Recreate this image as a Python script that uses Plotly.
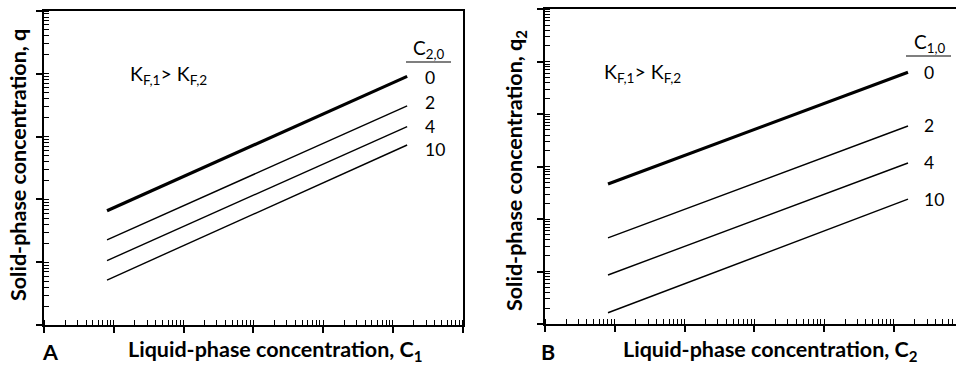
import math
import plotly.graph_objects as go

W, H = 956, 365

# ---- data (schematic Freundlich isotherms, log-log) ----
conc_liquid = [8, 160000]                 # C1 / C2 range of each line
series_labels = ["0", "2", "4", "10"]     # C2,0 (panel A) / C1,0 (panel B)
q_panel_a = {
    "0":  [66, 9100],
    "2":  [22.6, 3090],
    "4":  [10.6, 1445],
    "10": [5.2, 735],
}
q_panel_b = {
    "0":  [468, 63100],
    "2":  [43.7, 5960],
    "4":  [8.6, 1175],
    "10": [1.64, 240],
}
line_widths = {"0": 3.2, "2": 1.4, "4": 1.4, "10": 1.4}
label_shift_a = {"0": -1, "2": 3, "4": 0, "10": -4}

FONT = "Lato"

def px(x):
    return x / W

def py(y):
    return 1 - y / H

fig = go.Figure()

for lab in series_labels:
    fig.add_trace(go.Scatter(x=conc_liquid, y=q_panel_a[lab], mode="lines",
                             line=dict(color="black", width=line_widths[lab]),
                             xaxis="x", yaxis="y", showlegend=False, hoverinfo="skip"))
    fig.add_trace(go.Scatter(x=conc_liquid, y=q_panel_b[lab], mode="lines",
                             line=dict(color="black", width=line_widths[lab]),
                             xaxis="x2", yaxis="y2", showlegend=False, hoverinfo="skip"))

common = dict(type="log", showgrid=False, zeroline=False, showticklabels=False,
              linecolor="black", linewidth=1.5, dtick=1,
              ticks="outside", ticklen=6, tickwidth=1.5, tickcolor="black",
              minor=dict(ticks="inside", ticklen=5, tickwidth=1, tickcolor="black", dtick="D1"))
over = dict(type="log", showgrid=False, zeroline=False, showticklabels=False,
            showline=False, dtick=1, ticks="inside", ticklen=6, tickwidth=1.5,
            tickcolor="black")

xa_dom = [px(44), px(462.7)]
ya_dom = [py(325), py(11)]
xb_dom = [px(545), 1.0]
yb_dom = [py(324), py(9.3)]
xb_max = (956 - 545) / 69.75

fig.update_layout(
    width=W, height=H, margin=dict(l=0, r=0, t=0, b=0),
    paper_bgcolor="white", plot_bgcolor="white",
    xaxis=dict(domain=xa_dom, range=[0, 6], anchor="y", mirror=True, showline=True, **common),
    yaxis=dict(domain=ya_dom, range=[0, 5], anchor="x", mirror=True, showline=True, **common),
    xaxis2=dict(domain=xb_dom, range=[0, xb_max], anchor="y2", mirror=True, showline=True, **common),
    yaxis2=dict(domain=yb_dom, range=[0, 6], anchor="x2", mirror=False, showline=True, **common),
    xaxis3=dict(overlaying="x", anchor="y", side="bottom", range=[0, 6], **over),
    yaxis3=dict(overlaying="y", anchor="x", side="left", range=[0, 5], **over),
    xaxis4=dict(overlaying="x2", anchor="y2", side="bottom", range=[0, xb_max], **over),
    yaxis4=dict(overlaying="y2", anchor="x2", side="left", range=[0, 6], **over),
)

ann = []
def text(x, y, s, size=17, bold=False, angle=0, xanchor="center"):
    if bold:
        s = "<b>" + s + "</b>"
    ann.append(dict(x=px(x), y=py(y), xref="paper", yref="paper", text=s,
                    showarrow=False, textangle=angle, xanchor=xanchor, yanchor="middle",
                    font=dict(family=FONT, size=size, color="black")))

TS = 21.5
# axis titles
text(18, 165, "Solid-phase concentration, q", size=TS, bold=True, angle=-90)
text(515, 171, "Solid-phase concentration, q<sub>2</sub>", size=TS, bold=True, angle=-90)
text(275, 350, "Liquid-phase concentration, C<sub>1</sub>", size=TS, bold=True)
text(770, 350, "Liquid-phase concentration, C<sub>2</sub>", size=TS, bold=True)
text(50, 352, "A", size=TS, bold=True)
text(548, 352, "B", size=TS, bold=True)

# K_F relation
text(128, 75, "K<sub>F,1</sub>> K<sub>F,2</sub>", size=19.5, xanchor="left")
text(602, 73, "K<sub>F,1</sub>> K<sub>F,2</sub>", size=19.5, xanchor="left")

# legend headers
text(428, 49, "C<sub>2,0</sub>", size=19)
text(929, 43, "C<sub>1,0</sub>", size=19)

# series labels at line ends (log-axis annotations use log10 coordinates)
for lab in series_labels:
    ann.append(dict(x=math.log10(conc_liquid[-1]), y=math.log10(q_panel_a[lab][-1]),
                    xref="x", yref="y", text=lab, showarrow=False,
                    xanchor="left", yanchor="middle", xshift=16, yshift=label_shift_a[lab],
                    font=dict(family=FONT, size=17.5, color="black")))
    ann.append(dict(x=math.log10(conc_liquid[-1]), y=math.log10(q_panel_b[lab][-1]),
                    xref="x2", yref="y2", text=lab, showarrow=False,
                    xanchor="left", yanchor="middle", xshift=14,
                    font=dict(family=FONT, size=17.5, color="black")))

fig.update_layout(annotations=ann)

fig.add_shape(type="line", xref="paper", yref="paper", x0=px(406), x1=px(451),
              y0=py(62), y1=py(62), line=dict(color="black", width=1.2))
fig.add_shape(type="line", xref="paper", yref="paper", x0=px(906), x1=px(951),
              y0=py(56), y1=py(56), line=dict(color="black", width=1.2))

fig.write_html("out.html")
